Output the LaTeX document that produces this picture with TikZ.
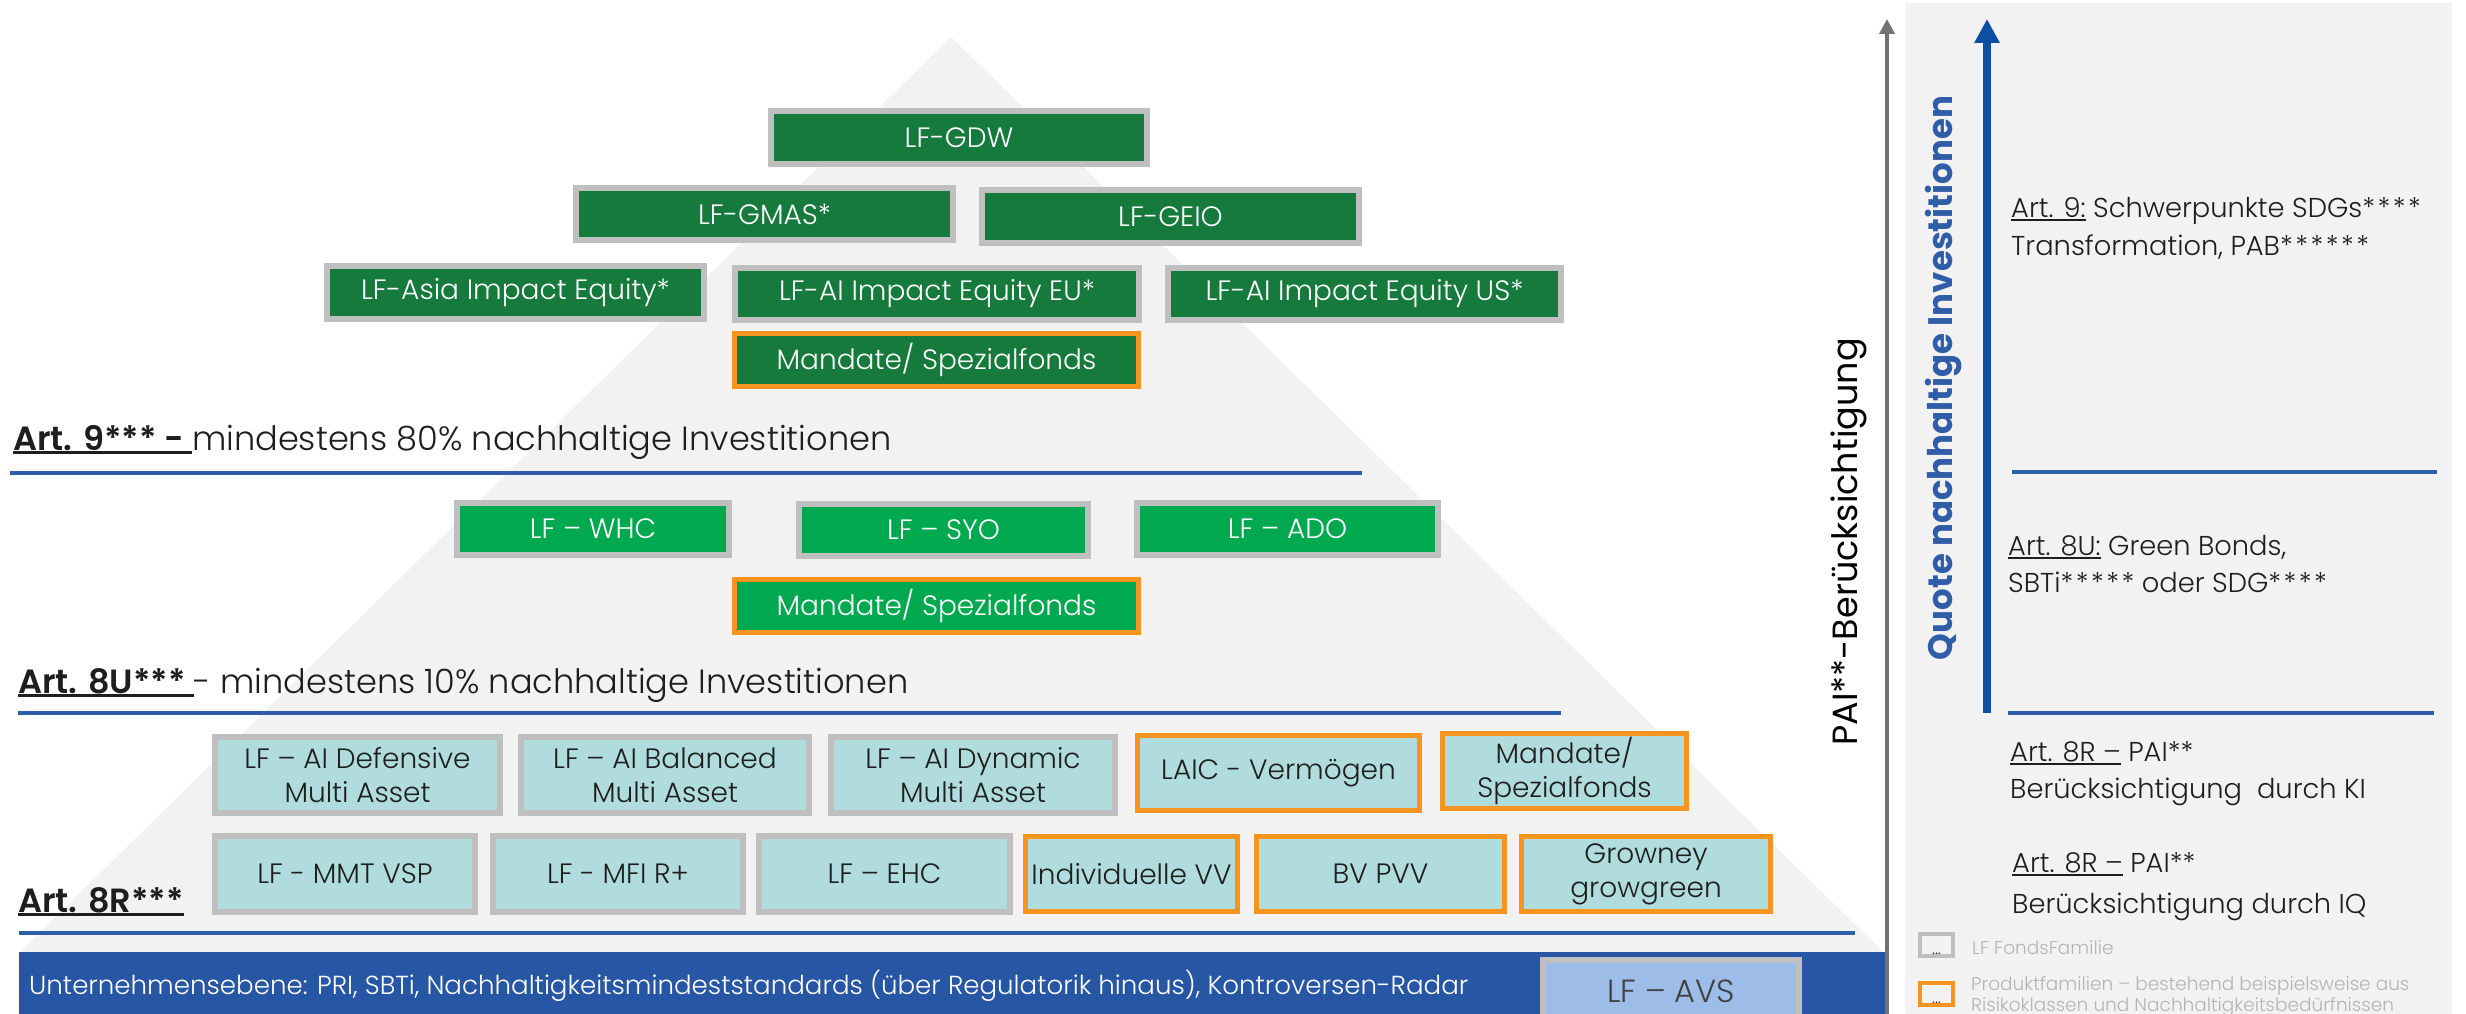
\documentclass[tikz,border=0pt]{standalone}
\usepackage{fontspec}
\IfFontExistsTF{Poppins Light}{%
  \setmainfont{Poppins}[UprightFont=* Light, BoldFont=* SemiBold]%
}{%
  \setmainfont{Poppins}%
}
\newfontfamily\popreg{Poppins}
\newfontfamily\popbold{Poppins}[UprightFont=* Bold]
\usetikzlibrary{arrows.meta}
\definecolor{dgreen}{HTML}{157A3C}
\definecolor{bgreen}{HTML}{00A84F}
\definecolor{tealbox}{HTML}{B0DCDD}
\definecolor{bordergray}{HTML}{BFBFBF}
\definecolor{orng}{HTML}{F7941D}
\definecolor{linblue}{HTML}{2E5DAA}
\definecolor{barblue}{HTML}{2757A4}
\definecolor{avsblue}{HTML}{9DBDE8}
\definecolor{pyrgray}{HTML}{F2F2F2}
\definecolor{arrgray}{HTML}{767171}
\definecolor{arrblue}{HTML}{0B4EA2}
\definecolor{quoteblue}{HTML}{2F5DA8}
\definecolor{legtxt}{HTML}{B4B4B4}
\definecolor{darktxt}{HTML}{1E1E1E}
\newsavebox\ulbox
\newcommand\myul[2][2pt]{\sbox\ulbox{#2}\rlap{\rule[-4pt]{\wd\ulbox}{#1}}\usebox\ulbox}
\newcommand\stars[1]{{\addfontfeature{LetterSpace=9}#1}}
\tikzset{
  fundbox/.style={draw=bordergray, line width=6pt, inner sep=0pt, align=center,
    font=\fontsize{28}{34}\selectfont},
  prodbox/.style={fundbox, draw=orng, line width=5pt},
  darkg/.style={fill=dgreen, text=white},
  brightg/.style={fill=bgreen, text=white},
  tealf/.style={fill=tealbox, text=darktxt},
  divider/.style={draw=linblue, line width=4.5pt},
  heading/.style={anchor=base west, inner sep=0pt, text=darktxt, font=\fontsize{33.6}{40}\selectfont},
  sidetxt/.style={anchor=base west, inner sep=0pt, text=darktxt, font=\fontsize{27.3}{33}\selectfont},
  legendtxt/.style={anchor=base west, inner sep=0pt, text=legtxt, font=\fontsize{18.5}{21}\selectfont},
}
\begin{document}
\begin{tikzpicture}[x=1pt, y=-1pt]
\useasboundingbox (0,0) rectangle (2466,1014);
\fill[white] (0,0) rectangle (2466,1014);
% pyramid and side panel
\fill[pyrgray] (951,37) -- (1883,952) -- (20,952) -- cycle;
\fill[pyrgray] (1905,3) rectangle (2452,1014);
% bottom bar
\fill[barblue] (19,952) rectangle (1887,1014);
\node[anchor=base west, inner sep=0pt, text=white, font=\fontsize{26.1}{30}\selectfont] (corp) at (29,994)
  {Unternehmensebene: PRI, SBTi, Nachhaltigkeitsmindeststandards (über Regulatorik hinaus), Kontroversen-Radar};
\node[fundbox, fill=avsblue, text=darktxt!85, minimum width=256, minimum height=62, font=\fontsize{32}{36}\selectfont] (avs) at (1671,991) {LF – AVS};

% Art 9 boxes
\node[fundbox, darkg, minimum width=376, minimum height=53] (gdw) at (959,137.5) {LF-GDW};
\node[fundbox, darkg, minimum width=377, minimum height=52] (gmas) at (764.5,214) {LF-GMAS*};
\node[fundbox, darkg, minimum width=377, minimum height=53] (geio) at (1170.5,216.5) {LF-GEIO};
\node[fundbox, darkg, minimum width=377, minimum height=53] (asia) at (515.5,292.5) {LF-Asia Impact Equity*};
\node[fundbox, darkg, minimum width=404, minimum height=52] (aieu) at (937,294) {LF-AI Impact Equity EU*};
\node[fundbox, darkg, minimum width=393, minimum height=52] (aius) at (1364.5,294) {LF-AI Impact Equity US*};
\node[prodbox, darkg, minimum width=404, minimum height=53] (mand1) at (936.5,360) {Mandate/ Spezialfonds};

% Art 9 heading
\node[heading] (h9) at (13,450) {\myul[3pt]{\bfseries Art. 9*** - }mindestens 80\% nachhaltige Investitionen};
\draw[divider] (10,473) coordinate (l9a) -- (1362,473) coordinate (l9b);

% Art 8U boxes
\node[fundbox, brightg, minimum width=272, minimum height=52] (whc) at (593,529) {LF – WHC};
\node[fundbox, brightg, minimum width=289, minimum height=52] (syo) at (943.5,530) {LF – SYO};
\node[fundbox, brightg, minimum width=301, minimum height=52] (ado) at (1287.5,529) {LF – ADO};
\node[prodbox, brightg, minimum width=404, minimum height=53] (mand2) at (936.5,606) {Mandate/ Spezialfonds};

\node[heading] (h8u) at (18,693) {\myul[3pt]{\bfseries Art. 8U*** }- mindestens 10\% nachhaltige Investitionen};
\draw[divider] (18,713) coordinate (l8ua) -- (1561,713) coordinate (l8ub);

% Art 8R boxes row A
\node[fundbox, tealf, minimum width=285, minimum height=76] (def) at (357.5,775) {LF – AI Defensive\\Multi Asset};
\node[fundbox, tealf, minimum width=288, minimum height=76] (bal) at (665,775) {LF – AI Balanced\\Multi Asset};
\node[fundbox, tealf, minimum width=284, minimum height=76] (dyn) at (973,775) {LF – AI Dynamic\\Multi Asset};
\node[prodbox, tealf, minimum width=282, minimum height=75] (laic) at (1278.5,773) {LAIC - Vermögen};
\node[prodbox, tealf, minimum width=244, minimum height=75] (mand3) at (1564.5,771) {Mandate/\\Spezialfonds};
% row B
\node[fundbox, tealf, minimum width=260, minimum height=76] (mmt) at (345,874) {LF - MMT VSP};
\node[fundbox, tealf, minimum width=250, minimum height=76] (mfi) at (618,874) {LF - MFI R+};
\node[fundbox, tealf, minimum width=251, minimum height=76] (ehc) at (884.5,874) {LF – EHC};
\node[prodbox, tealf, minimum width=212, minimum height=75] (ivv) at (1131.5,874) {Individuelle VV};
\node[prodbox, tealf, minimum width=248, minimum height=75] (bvpvv) at (1380.5,874) {BV PVV};
\node[prodbox, tealf, minimum width=249, minimum height=75] (grow) at (1646,874) {Growney\\growgreen};

\node[heading] (h8r) at (18,912) {\myul[3pt]{\bfseries Art. 8R***}};
\draw[divider] (19,933) coordinate (l8ra) -- (1855,933) coordinate (l8rb);

% axes
\coordinate (gbot) at (1887,1014);
\coordinate (gtop) at (1887,19);
\draw[arrgray, line width=3.5pt, -{Triangle[width=15pt,length=15pt]}] (gbot) -- (gtop);
\node[rotate=90, inner sep=0pt, text=black, font=\popreg\fontsize{35}{40}\selectfont] (pai) at (1849,542) {PAI**-Berücksichtigung};

\coordinate (bbot) at (1987,713);
\coordinate (btop) at (1987,19);
\draw[arrblue, line width=8pt, -{Triangle[width=24pt,length=24pt]}] (bbot) -- (btop);
\node[rotate=90, inner sep=0pt, text=quoteblue, font=\popbold\fontsize{34}{40}\selectfont] (quote) at (1944,378) {Quote nachhaltige Investitionen};

% side panel texts
\node[sidetxt] (s9a) at (2011,217) {\myul{Art. 9:}\ Schwerpunkte SDGs\stars{****}};
\node[sidetxt] (s9b) at (2011,255) {Transformation, PAB\stars{******}};
\draw[divider] (2012,472) coordinate (r1a) -- (2437,472) coordinate (r1b);
\node[sidetxt] (s8ua) at (2008,555) {\myul{Art. 8U:}\ Green Bonds,};
\node[sidetxt] (s8ub) at (2008,592) {SBTi\stars{*****} oder SDG\stars{****}};
\draw[divider] (2008,713) coordinate (r2a) -- (2434,713) coordinate (r2b);
\node[sidetxt] (s8ra) at (2010,761) {\myul{Art. 8R –}\ PAI**};
\node[sidetxt] (s8rb) at (2010,798) {Berücksichtigung\ \ durch KI};
\node[sidetxt] (s8rc) at (2012,872) {\myul{Art. 8R –}\ PAI**};
\node[sidetxt] (s8rd) at (2012,913) {Berücksichtigung durch IQ};

% legend
\node[draw=bordergray, line width=4pt, minimum width=33, minimum height=22, inner sep=0pt] (lg1) at (1936.5,945) {};
\node[anchor=base, inner sep=0pt, font=\fontsize{16}{16}\selectfont, text=darktxt] (lg1t) at (1936.5,954) {...};
\node[legendtxt] (lg1l) at (1972,954) {LF FondsFamilie};
\node[draw=orng, line width=4pt, minimum width=33, minimum height=22, inner sep=0pt] (lg2) at (1936.5,994) {};
\node[anchor=base, inner sep=0pt, font=\fontsize{16}{16}\selectfont, text=darktxt] (lg2t) at (1936.5,1003) {...};
\node[legendtxt] (lg2l) at (1971,990) {Produktfamilien – bestehend beispielsweise aus};
\node[legendtxt] (lg2m) at (1971,1011) {Risikoklassen und Nachhaltigkeitsbedürfnissen};
\end{tikzpicture}
\end{document}
